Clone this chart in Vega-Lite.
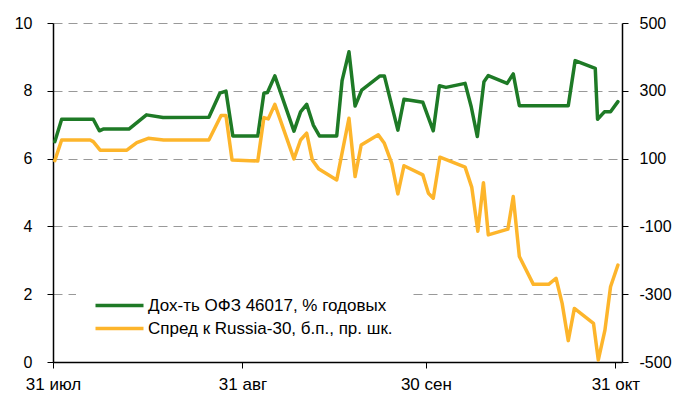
{
  "$schema": "https://vega.github.io/schema/vega-lite/v6.json",
  "autosize": "none",
  "width": 569,
  "height": 339,
  "padding": {"left": 53, "top": 23, "right": 53, "bottom": 39},
  "background": "white",
  "config": {
    "view": {"stroke": null},
    "font": "Liberation Sans",
    "axis": {"labelFont": "Liberation Sans", "labelFontSize": 16, "labelColor": "#000", "domainColor": "#000", "tickColor": "#000", "titleFontSize": 0}
  },
  "datasets": {
    "ofz": [
      {"date": "2014-07-31T07:00", "series": "Дох-ть ОФЗ 46017, % годовых", "value": 6.50},
      {"date": "2014-08-01T10:00", "series": "Дох-ть ОФЗ 46017, % годовых", "value": 7.16},
      {"date": "2014-08-06T14:00", "series": "Дох-ть ОФЗ 46017, % годовых", "value": 7.16},
      {"date": "2014-08-07T14:00", "series": "Дох-ть ОФЗ 46017, % годовых", "value": 6.82},
      {"date": "2014-08-08T05:00", "series": "Дох-ть ОФЗ 46017, % годовых", "value": 6.87},
      {"date": "2014-08-12T10:00", "series": "Дох-ть ОФЗ 46017, % годовых", "value": 6.87},
      {"date": "2014-08-15T07:00", "series": "Дох-ть ОФЗ 46017, % годовых", "value": 7.29},
      {"date": "2014-08-18T00:00", "series": "Дох-ть ОФЗ 46017, % годовых", "value": 7.21},
      {"date": "2014-08-25T12:00", "series": "Дох-ть ОФЗ 46017, % годовых", "value": 7.22},
      {"date": "2014-08-27T07:00", "series": "Дох-ть ОФЗ 46017, % годовых", "value": 7.93},
      {"date": "2014-08-28T07:00", "series": "Дох-ть ОФЗ 46017, % годовых", "value": 7.99},
      {"date": "2014-08-29T10:00", "series": "Дох-ть ОФЗ 46017, % годовых", "value": 6.67},
      {"date": "2014-09-02T12:00", "series": "Дох-ть ОФЗ 46017, % годовых", "value": 6.67},
      {"date": "2014-09-03T12:00", "series": "Дох-ть ОФЗ 46017, % годовых", "value": 7.93},
      {"date": "2014-09-04T02:00", "series": "Дох-ть ОФЗ 46017, % годовых", "value": 7.95},
      {"date": "2014-09-05T07:00", "series": "Дох-ть ОФЗ 46017, % годовых", "value": 8.44},
      {"date": "2014-09-08T10:00", "series": "Дох-ть ОФЗ 46017, % годовых", "value": 6.81},
      {"date": "2014-09-09T12:00", "series": "Дох-ть ОФЗ 46017, % годовых", "value": 7.38},
      {"date": "2014-09-10T12:00", "series": "Дох-ть ОФЗ 46017, % годовых", "value": 7.60},
      {"date": "2014-09-11T14:00", "series": "Дох-ть ОФЗ 46017, % годовых", "value": 6.99},
      {"date": "2014-09-12T14:00", "series": "Дох-ть ОФЗ 46017, % годовых", "value": 6.67},
      {"date": "2014-09-15T10:00", "series": "Дох-ть ОФЗ 46017, % годовых", "value": 6.67},
      {"date": "2014-09-16T07:00", "series": "Дох-ть ОФЗ 46017, % годовых", "value": 8.30},
      {"date": "2014-09-17T10:00", "series": "Дох-ть ОФЗ 46017, % годовых", "value": 9.15},
      {"date": "2014-09-18T10:00", "series": "Дох-ть ОФЗ 46017, % годовых", "value": 7.55},
      {"date": "2014-09-19T12:00", "series": "Дох-ть ОФЗ 46017, % годовых", "value": 8.02},
      {"date": "2014-09-22T12:00", "series": "Дох-ть ОФЗ 46017, % годовых", "value": 8.44},
      {"date": "2014-09-23T05:00", "series": "Дох-ть ОФЗ 46017, % годовых", "value": 8.44},
      {"date": "2014-09-25T10:00", "series": "Дох-ть ОФЗ 46017, % годовых", "value": 6.84},
      {"date": "2014-09-26T10:00", "series": "Дох-ть ОФЗ 46017, % годовых", "value": 7.75},
      {"date": "2014-09-29T12:00", "series": "Дох-ть ОФЗ 46017, % годовых", "value": 7.66},
      {"date": "2014-10-01T05:00", "series": "Дох-ть ОФЗ 46017, % годовых", "value": 6.82},
      {"date": "2014-10-02T05:00", "series": "Дох-ть ОФЗ 46017, % годовых", "value": 8.15},
      {"date": "2014-10-03T07:00", "series": "Дох-ть ОФЗ 46017, % годовых", "value": 8.10},
      {"date": "2014-10-06T10:00", "series": "Дох-ть ОФЗ 46017, % годовых", "value": 8.22},
      {"date": "2014-10-07T10:00", "series": "Дох-ть ОФЗ 46017, % годовых", "value": 7.53},
      {"date": "2014-10-08T10:00", "series": "Дох-ть ОФЗ 46017, % годовых", "value": 6.65},
      {"date": "2014-10-09T12:00", "series": "Дох-ть ОФЗ 46017, % годовых", "value": 8.27},
      {"date": "2014-10-10T05:00", "series": "Дох-ть ОФЗ 46017, % годовых", "value": 8.45},
      {"date": "2014-10-13T07:00", "series": "Дох-ть ОФЗ 46017, % годовых", "value": 8.22},
      {"date": "2014-10-14T07:00", "series": "Дох-ть ОФЗ 46017, % годовых", "value": 8.50},
      {"date": "2014-10-15T07:00", "series": "Дох-ть ОФЗ 46017, % годовых", "value": 7.56},
      {"date": "2014-10-23T07:00", "series": "Дох-ть ОФЗ 46017, % годовых", "value": 7.56},
      {"date": "2014-10-24T10:00", "series": "Дох-ть ОФЗ 46017, % годовых", "value": 8.89},
      {"date": "2014-10-27T17:00", "series": "Дох-ть ОФЗ 46017, % годовых", "value": 8.66},
      {"date": "2014-10-28T02:00", "series": "Дох-ть ОФЗ 46017, % годовых", "value": 7.16},
      {"date": "2014-10-29T05:00", "series": "Дох-ть ОФЗ 46017, % годовых", "value": 7.38},
      {"date": "2014-10-30T05:00", "series": "Дох-ть ОФЗ 46017, % годовых", "value": 7.38},
      {"date": "2014-10-31T10:00", "series": "Дох-ть ОФЗ 46017, % годовых", "value": 7.68}
    ],
    "spread": [
      {"date": "2014-07-31T07:00", "series": "Спред к Russia-30, б.п., пр. шк.", "value": 94},
      {"date": "2014-08-01T10:00", "series": "Спред к Russia-30, б.п., пр. шк.", "value": 155},
      {"date": "2014-08-06T02:00", "series": "Спред к Russia-30, б.п., пр. шк.", "value": 155},
      {"date": "2014-08-06T14:00", "series": "Спред к Russia-30, б.п., пр. шк.", "value": 150},
      {"date": "2014-08-07T17:00", "series": "Спред к Russia-30, б.п., пр. шк.", "value": 125},
      {"date": "2014-08-12T02:00", "series": "Спред к Russia-30, б.п., пр. шк.", "value": 125},
      {"date": "2014-08-13T17:00", "series": "Спред к Russia-30, б.п., пр. шк.", "value": 147},
      {"date": "2014-08-15T14:00", "series": "Спред к Russia-30, б.п., пр. шк.", "value": 160},
      {"date": "2014-08-18T02:00", "series": "Спред к Russia-30, б.п., пр. шк.", "value": 155},
      {"date": "2014-08-25T12:00", "series": "Спред к Russia-30, б.п., пр. шк.", "value": 155},
      {"date": "2014-08-27T12:00", "series": "Спред к Russia-30, б.п., пр. шк.", "value": 227},
      {"date": "2014-08-28T07:00", "series": "Спред к Russia-30, б.п., пр. шк.", "value": 227},
      {"date": "2014-08-29T07:00", "series": "Спред к Russia-30, б.п., пр. шк.", "value": 96},
      {"date": "2014-09-02T12:00", "series": "Спред к Russia-30, б.п., пр. шк.", "value": 93},
      {"date": "2014-09-03T12:00", "series": "Спред к Russia-30, б.п., пр. шк.", "value": 221},
      {"date": "2014-09-04T05:00", "series": "Спред к Russia-30, б.п., пр. шк.", "value": 217},
      {"date": "2014-09-05T07:00", "series": "Спред к Russia-30, б.п., пр. шк.", "value": 260},
      {"date": "2014-09-08T10:00", "series": "Спред к Russia-30, б.п., пр. шк.", "value": 99},
      {"date": "2014-09-09T12:00", "series": "Спред к Russia-30, б.п., пр. шк.", "value": 155},
      {"date": "2014-09-10T12:00", "series": "Спред к Russia-30, б.п., пр. шк.", "value": 175},
      {"date": "2014-09-11T10:00", "series": "Спред к Russia-30, б.п., пр. шк.", "value": 96},
      {"date": "2014-09-12T12:00", "series": "Спред к Russia-30, б.п., пр. шк.", "value": 69},
      {"date": "2014-09-15T10:00", "series": "Спред к Russia-30, б.п., пр. шк.", "value": 37},
      {"date": "2014-09-17T10:00", "series": "Спред к Russia-30, б.п., пр. шк.", "value": 219},
      {"date": "2014-09-18T10:00", "series": "Спред к Russia-30, б.п., пр. шк.", "value": 47},
      {"date": "2014-09-19T10:00", "series": "Спред к Russia-30, б.п., пр. шк.", "value": 140},
      {"date": "2014-09-22T05:00", "series": "Спред к Russia-30, б.п., пр. шк.", "value": 170},
      {"date": "2014-09-23T05:00", "series": "Спред к Russia-30, б.п., пр. шк.", "value": 145},
      {"date": "2014-09-24T10:00", "series": "Спред к Russia-30, б.п., пр. шк.", "value": 86},
      {"date": "2014-09-25T10:00", "series": "Спред к Russia-30, б.п., пр. шк.", "value": -4},
      {"date": "2014-09-26T10:00", "series": "Спред к Russia-30, б.п., пр. шк.", "value": 79},
      {"date": "2014-09-29T12:00", "series": "Спред к Russia-30, б.п., пр. шк.", "value": 52},
      {"date": "2014-09-30T10:00", "series": "Спред к Russia-30, б.п., пр. шк.", "value": -2},
      {"date": "2014-10-01T05:00", "series": "Спред к Russia-30, б.п., пр. шк.", "value": -17},
      {"date": "2014-10-02T07:00", "series": "Спред к Russia-30, б.п., пр. шк.", "value": 104},
      {"date": "2014-10-06T10:00", "series": "Спред к Russia-30, б.п., пр. шк.", "value": 75},
      {"date": "2014-10-07T12:00", "series": "Спред к Russia-30, б.п., пр. шк.", "value": 16},
      {"date": "2014-10-08T12:00", "series": "Спред к Russia-30, б.п., пр. шк.", "value": -114},
      {"date": "2014-10-09T10:00", "series": "Спред к Russia-30, б.п., пр. шк.", "value": 29},
      {"date": "2014-10-10T05:00", "series": "Спред к Russia-30, б.п., пр. шк.", "value": -125},
      {"date": "2014-10-13T10:00", "series": "Спред к Russia-30, б.п., пр. шк.", "value": -108},
      {"date": "2014-10-14T07:00", "series": "Спред к Russia-30, б.п., пр. шк.", "value": -12},
      {"date": "2014-10-15T07:00", "series": "Спред к Russia-30, б.п., пр. шк.", "value": -189},
      {"date": "2014-10-17T14:00", "series": "Спред к Russia-30, б.п., пр. шк.", "value": -271},
      {"date": "2014-10-20T02:00", "series": "Спред к Russia-30, б.п., пр. шк.", "value": -271},
      {"date": "2014-10-21T07:00", "series": "Спред к Russia-30, б.п., пр. шк.", "value": -253},
      {"date": "2014-10-22T07:00", "series": "Спред к Russia-30, б.п., пр. шк.", "value": -327},
      {"date": "2014-10-23T07:00", "series": "Спред к Russia-30, б.п., пр. шк.", "value": -437},
      {"date": "2014-10-24T07:00", "series": "Спред к Russia-30, б.п., пр. шк.", "value": -342},
      {"date": "2014-10-27T10:00", "series": "Спред к Russia-30, б.п., пр. шк.", "value": -386},
      {"date": "2014-10-28T05:00", "series": "Спред к Russia-30, б.п., пр. шк.", "value": -494},
      {"date": "2014-10-29T07:00", "series": "Спред к Russia-30, б.п., пр. шк.", "value": -406},
      {"date": "2014-10-30T05:00", "series": "Спред к Russia-30, б.п., пр. шк.", "value": -278},
      {"date": "2014-10-31T10:00", "series": "Спред к Russia-30, б.п., пр. шк.", "value": -214}
    ]
  },
  "encoding": {
    "x": {
      "field": "date",
      "type": "temporal",
      "scale": {"domain": [{"year": 2014, "month": 7, "date": 31}, {"year": 2014, "month": 11, "date": 1, "hours": 2}]},
      "axis": {
        "title": null,
        "values": [{"year": 2014, "month": 7, "date": 31}, {"year": 2014, "month": 8, "date": 31}, {"year": 2014, "month": 9, "date": 30}, {"year": 2014, "month": 10, "date": 31}],
        "labelExpr": "timeFormat(datum.value, '%d') + ' ' + ['янв','фев','мар','апр','май','июн','июл','авг','сен','окт','ноя','дек'][month(datum.value)]",
        "grid": false,
        "tickSize": 6,
        "labelPadding": 8,
        "labelFontSize": 17,
        "domainWidth": 1.5,
        "labelFlush": false,
        "labelOverlap": false
      }
    }
  },
  "layer": [
    {
      "data": {"name": "ofz"},
      "mark": {"type": "line", "strokeWidth": 3.5, "strokeJoin": "round", "strokeCap": "round"},
      "encoding": {
        "y": {
          "field": "value",
          "type": "quantitative",
          "scale": {"domain": [0, 10], "nice": false},
          "axis": {
            "title": null,
            "orient": "left",
            "values": [0, 2, 4, 6, 8, 10],
            "grid": true,
            "gridDash": [9, 6],
            "gridColor": "#999999",
            "gridWidth": 1,
            "tickSize": 6,
            "labelPadding": 15,
            "domainWidth": 1.5
          }
        },
        "color": {
          "field": "series",
          "type": "nominal",
          "scale": {
            "domain": ["Дох-ть ОФЗ 46017, % годовых", "Спред к Russia-30, б.п., пр. шк."],
            "range": ["#1E7A26", "#FDB52B"]
          },
          "legend": {
            "title": null,
            "orient": "none",
            "legendX": 23,
            "legendY": 256,
            "symbolType": "M-4,0H4",
            "symbolSize": 144,
            "symbolStrokeWidth": 3.5,
            "labelFontSize": 17,
            "labelFont": "Liberation Sans",
            "labelColor": "#000",
            "labelLimit": 400,
            "rowPadding": 5,
            "padding": 18,
            "fillColor": "white",
            "symbolOffset": 17,
            "labelOffset": 20
          }
        }
      }
    },
    {
      "data": {"name": "spread"},
      "mark": {"type": "line", "strokeWidth": 3.5, "strokeJoin": "round", "strokeCap": "round"},
      "encoding": {
        "y": {
          "field": "value",
          "type": "quantitative",
          "scale": {"domain": [-500, 500], "nice": false},
          "axis": {
            "title": null,
            "orient": "right",
            "values": [-500, -300, -100, 100, 300, 500],
            "labelExpr": "datum.value < 0 ? '-' + abs(datum.value) : '' + datum.value",
            "grid": false,
            "tickSize": 6,
            "labelPadding": 11,
            "domainWidth": 1.5
          }
        },
        "color": {"field": "series", "type": "nominal"}
      }
    }
  ],
  "resolve": {"scale": {"y": "independent"}}
}
